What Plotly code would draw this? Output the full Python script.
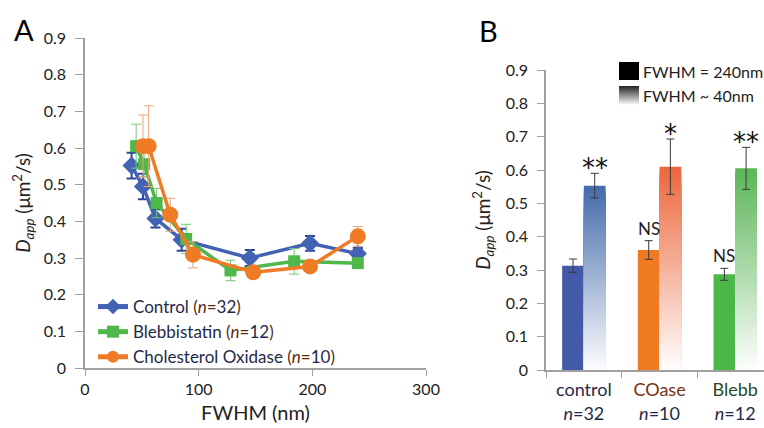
import plotly.graph_objects as go

# ---------------- Panel A data ----------------
fwhm_ctrl = [41, 51, 62, 85, 145, 198, 240]
d_ctrl = [0.552, 0.495, 0.408, 0.350, 0.300, 0.340, 0.312]
e_ctrl = [0.035, 0.035, 0.025, 0.030, 0.022, 0.020, 0.015]

fwhm_bleb = [45, 52, 63, 89, 128, 184, 240]
d_bleb = [0.605, 0.556, 0.450, 0.352, 0.266, 0.291, 0.286]
e_bleb = [0.060, 0.035, 0.040, 0.040, 0.028, 0.035, 0.010]

fwhm_chol = [51, 56, 75, 95, 148, 198, 240]
d_chol = [0.605, 0.605, 0.418, 0.309, 0.261, 0.277, 0.359]
e_chol = [0.085, 0.110, 0.045, 0.036, 0.010, 0.010, 0.027]

# ---------------- Panel B data ----------------
groups = ["control", "COase", "Blebb"]
group_n = [32, 10, 12]
group_label_colors = ["#1f2a4a", "#7a2e10", "#1f4a1f"]
d_240 = [0.313, 0.360, 0.287]
e_240 = [0.020, 0.028, 0.018]
d_40 = [0.553, 0.610, 0.605]
e_40 = [0.037, 0.083, 0.063]
sig_240 = ["", "NS", "NS"]
sig_40 = ["**", "*", "**"]

col_240 = ["#4459a8", "#f07a22", "#4cb648"]
col_40_top = [(70, 108, 172), (236, 104, 62), (92, 182, 88)]

FONT = "Lato, 'Open Sans', sans-serif"
W, H = 764, 428


def px_x(p):
    return p / W


def px_y(p):
    return 1 - p / H


fig = go.Figure()

# Panel A traces
series = [
    ("Control", "32", fwhm_ctrl, d_ctrl, e_ctrl, "#4262b4", "diamond", 14, "#2c4797", 2),
    ("Blebbistatin", "12", fwhm_bleb, d_bleb, e_bleb, "#4fb84a", "square", 12, "#79c776", 1),
    ("Cholesterol Oxidase", "10", fwhm_chol, d_chol, e_chol, "#f07b26", "circle", 16, "#eba57a", 1),
]
for name, n, xs, ys, es, col, sym, msize, ecol, eth in series:
    fig.add_trace(go.Scatter(
        x=xs, y=ys, mode="lines+markers",
        name=f"<span style='color:#1f2a4a'>{name}</span> <span style='color:#5a2a10'>(<i>n</i>=</span><span style='color:#1f2a4a'>{n}</span><span style='color:#5a2a10'>)</span>",
        line=dict(color=col, width=3.5),
        marker=dict(symbol=sym, size=msize, color=col, line=dict(width=0)),
        error_y=dict(type="data", array=es, visible=True, color=ecol, thickness=eth, width=5),
        xaxis="x", yaxis="y", legend="legend",
    ))

# Panel B: solid 240nm bars
fig.add_trace(go.Bar(
    x=groups, y=d_240, offsetgroup="240", name="FWHM = 240nm",
    marker=dict(color=col_240, line=dict(width=0)),
    error_y=dict(type="data", array=e_240, visible=True, color="#3a3a3a", thickness=1, width=4),
    xaxis="x2", yaxis="y2", showlegend=False,
))

# Panel B: gradient 40nm bars (overlaid layers, dark at top -> white at bottom)
N = 48
for k in range(N, 0, -1):
    frac = k / N
    cols = []
    for (r, g, b) in col_40_top:
        rr = int(round(255 + (r - 255) * frac))
        gg = int(round(255 + (g - 255) * frac))
        bb = int(round(255 + (b - 255) * frac))
        cols.append(f"rgb({rr},{gg},{bb})")
    fig.add_trace(go.Bar(
        x=groups, y=[v * frac for v in d_40], offsetgroup="40",
        marker=dict(color=cols, line=dict(width=0)),
        xaxis="x2", yaxis="y2", showlegend=False, hoverinfo="skip",
    ))

# error bars for 40nm bars on top
fig.add_trace(go.Bar(
    x=groups, y=d_40, offsetgroup="40", name="FWHM ~ 40nm",
    marker=dict(color="rgba(0,0,0,0)", line=dict(width=0)),
    error_y=dict(type="data", array=e_40, visible=True, color="#3a3a3a", thickness=1, width=4),
    xaxis="x2", yaxis="y2", showlegend=False,
))

annotations = []
# significance labels
for g, v, e, s in zip(groups, d_240, e_240, sig_240):
    if s:
        annotations.append(dict(x=g, y=v + e, xref="x2", yref="y2", xshift=-10.8, yshift=0,
                                text=s, showarrow=False, yanchor="bottom",
                                font=dict(family=FONT, size=17, color="#222")))
for g, v, e, s in zip(groups, d_40, e_40, sig_40):
    annotations.append(dict(x=g, y=v + e, xref="x2", yref="y2", xshift=10.8, yshift=-12,
                            text=s, showarrow=False, yanchor="bottom",
                            font=dict(family="DejaVu Sans", size=26, color="#111")))

# panel letters
annotations.append(dict(x=px_x(12), y=px_y(30), xref="paper", yref="paper", text="A",
                        showarrow=False, xanchor="left", yanchor="middle",
                        font=dict(family=FONT, size=29, color="#000")))
annotations.append(dict(x=px_x(477), y=px_y(31), xref="paper", yref="paper", text="B",
                        showarrow=False, xanchor="left", yanchor="middle",
                        font=dict(family=FONT, size=29, color="#000")))

# manual legend for panel B
annotations.append(dict(x=px_x(641), y=px_y(71), xref="paper", yref="paper", text="FWHM = 240nm",
                        showarrow=False, xanchor="left", yanchor="middle",
                        font=dict(family=FONT, size=16, color="#222")))
annotations.append(dict(x=px_x(641), y=px_y(95), xref="paper", yref="paper", text="FWHM ~ 40nm",
                        showarrow=False, xanchor="left", yanchor="middle",
                        font=dict(family=FONT, size=16, color="#222")))

shapes = [dict(type="rect", xref="paper", yref="paper",
               x0=px_x(619), x1=px_x(639), y0=px_y(62), y1=px_y(80),
               fillcolor="#000", line=dict(width=0))]
M = 19
for i in range(M):
    t = i / (M - 1)
    c = int(round(40 + (250 - 40) * t))
    shapes.append(dict(type="rect", xref="paper", yref="paper",
                       x0=px_x(619), x1=px_x(639),
                       y0=px_y(86 + i), y1=px_y(87 + i),
                       fillcolor=f"rgb({c},{c},{c})", line=dict(width=0)))

ticktext = [f"<span style='color:{c}'>{g}</span><br><span style='color:#1f2a4a'><i>n</i>={n}</span>"
            for g, n, c in zip(groups, group_n, group_label_colors)]

axis_line = "#a0a0a0"
ytitle = "<i>D<sub>app</sub></i> (μm<sup>2</sup>/s)"

fig.update_layout(
    width=W, height=H,
    margin=dict(l=0, r=0, t=0, b=0, autoexpand=False),
    paper_bgcolor="white", plot_bgcolor="white",
    font=dict(family=FONT, size=15, color="#222"),
    barmode="group", bargap=0.427, bargroupgap=0,
    showlegend=True,
    legend=dict(x=px_x(93), y=px_y(289), xanchor="left", yanchor="top",
                bgcolor="rgba(255,255,255,0)", font=dict(family=FONT, size=17),
                tracegroupgap=0, itemsizing="constant"),
    xaxis=dict(domain=[px_x(85), px_x(426)], range=[0, 300], tickvals=[0, 100, 200, 300],
               showline=True, linecolor=axis_line, linewidth=1.5, ticks="outside", ticklen=6,
               tickcolor=axis_line, showgrid=False, zeroline=False, automargin=False,
               tickfont=dict(size=16, color="#222"),
               title=dict(text="FWHM (nm)", font=dict(size=20), standoff=9),
               anchor="y"),
    yaxis=dict(domain=[1 - 368 / H, 1 - 38 / H], range=[0, 0.9], dtick=0.1,
               showline=True, linecolor=axis_line, linewidth=1.5, ticks="outside", ticklen=8,
               tickcolor=axis_line, showgrid=False, zeroline=False, automargin=False,
               tickfont=dict(size=16, color="#222"), ticklabelstandoff=6,
               title=dict(text=ytitle, font=dict(size=19), standoff=8),
               anchor="x"),
    xaxis2=dict(domain=[px_x(546), 1.0], type="category", categoryorder="array",
                categoryarray=groups, range=[-0.5, 2.38],
                tickvals=groups, ticktext=ticktext, tickson="boundaries",
                showline=True, linecolor=axis_line, linewidth=1.5, ticks="outside", ticklen=6,
                tickcolor=axis_line, showgrid=False, zeroline=False, automargin=False,
                tickfont=dict(size=18), ticklabelstandoff=3, anchor="y2"),
    yaxis2=dict(domain=[1 - 370 / H, 1 - 70 / H], range=[0, 0.9], dtick=0.1,
                showline=True, linecolor=axis_line, linewidth=1.5, ticks="outside", ticklen=7,
                tickcolor=axis_line, showgrid=False, zeroline=False, automargin=False,
                tickfont=dict(size=16, color="#222"), ticklabelstandoff=6,
                title=dict(text=ytitle, font=dict(size=19), standoff=10),
                anchor="x2"),
    annotations=annotations,
    shapes=shapes,
)

fig.write_html("out.html")
